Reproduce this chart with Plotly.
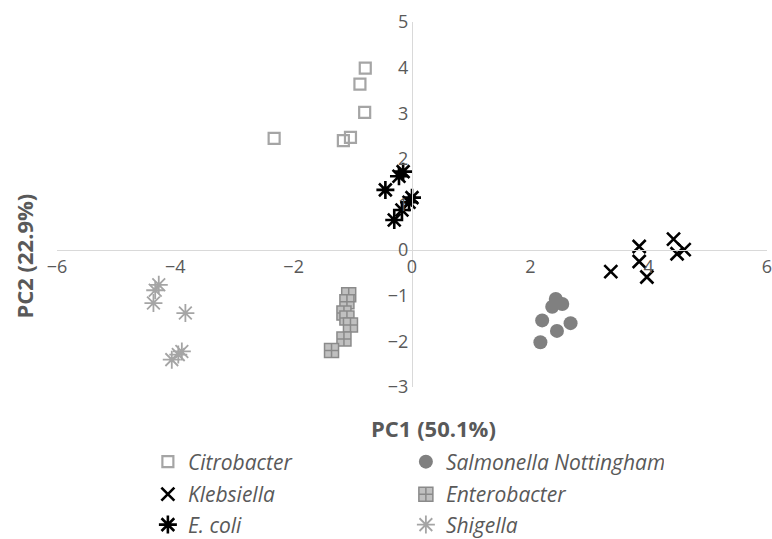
import plotly.graph_objects as go

# ---- data ----
citro_x = [-0.79, -0.88, -0.80, -2.33, -1.04, -1.16]
citro_y = [3.99, 3.64, 3.02, 2.45, 2.47, 2.40]

salm_x = [2.43, 2.54, 2.37, 2.20, 2.68, 2.45, 2.17]
salm_y = [-1.07, -1.18, -1.24, -1.54, -1.60, -1.77, -2.02]

kleb_x = [3.36, 3.84, 3.84, 3.97, 4.42, 4.48, 4.60]
kleb_y = [-0.47, 0.08, -0.25, -0.59, 0.24, -0.08, 0.01]

entero_x = [-1.07, -1.10, -1.15, -1.10, -1.04, -1.15, -1.36]
entero_y = [-0.98, -1.13, -1.38, -1.49, -1.64, -1.95, -2.20]

ecoli_x = [-0.22, -0.15, -0.45, 0.00, -0.05, -0.17, -0.30]
ecoli_y = [1.62, 1.72, 1.32, 1.15, 1.05, 0.88, 0.66]

shig_x = [-4.28, -4.34, -4.37, -3.83, -3.89, -3.95, -4.06]
shig_y = [-0.76, -0.88, -1.16, -1.38, -2.22, -2.29, -2.40]

x_ticks = [-6, -4, -2, 0, 2, 4, 6]
y_ticks = [-3, -2, -1, 0, 1, 2, 3, 4, 5]

FONT = "Open Sans"
GRAY_TXT = "#595959"

fig = go.Figure()
fig.add_trace(go.Scatter(x=citro_x, y=citro_y, mode="markers", name="Citrobacter", legend="legend",
                         marker=dict(symbol="square-open", size=11, color="#a5a5a5",
                                     line=dict(width=2.2, color="#a5a5a5"))))
fig.add_trace(go.Scatter(x=salm_x, y=salm_y, mode="markers", name="Salmonella Nottingham", legend="legend",
                         marker=dict(symbol="circle", size=14, color="#808080",
                                     line=dict(width=0))))
fig.add_trace(go.Scatter(x=kleb_x, y=kleb_y, mode="markers", name="Klebsiella", legend="legend2",
                         marker=dict(symbol="x-thin-open", size=13, color="#000000",
                                     line=dict(width=2.6, color="#000000"))))
fig.add_trace(go.Scatter(x=entero_x, y=entero_y, mode="markers", name="Enterobacter", legend="legend2",
                         marker=dict(symbol="square-cross", size=14, color="#c0c0c0",
                                     line=dict(width=1.5, color="#8a8a8a"))))
fig.add_trace(go.Scatter(x=ecoli_x, y=ecoli_y, mode="markers", name="E. coli", legend="legend3",
                         marker=dict(symbol="asterisk-open", size=15, color="#000000",
                                     line=dict(width=2.6, color="#000000"))))
fig.add_trace(go.Scatter(x=shig_x, y=shig_y, mode="markers", name="Shigella", legend="legend3",
                         marker=dict(symbol="asterisk-open", size=15, color="#a5a5a5",
                                     line=dict(width=1.8, color="#a5a5a5"))))

legend_common = dict(orientation="h", x=0.128, xanchor="left", yanchor="middle",
                     entrywidth=213, traceorder="normal", bgcolor="rgba(0,0,0,0)",
                     font=dict(size=21, color=GRAY_TXT, family=FONT, style="italic"))

fig.update_layout(
    width=772, height=539,
    margin=dict(l=57, r=5, t=22, b=152, autoexpand=False),
    paper_bgcolor="white", plot_bgcolor="white",
    font=dict(family=FONT, color=GRAY_TXT),
    xaxis=dict(range=[-6, 6], tickvals=x_ticks, showgrid=False, zeroline=False,
               showline=True, linecolor="#d9d9d9", linewidth=1,
               anchor="free", position=0.375, ticks="", ticklabeloverflow="allow",
               tickfont=dict(size=18, color=GRAY_TXT, family=FONT)),
    yaxis=dict(range=[-3, 5], tickvals=y_ticks, showgrid=False, zeroline=False,
               showline=True, linecolor="#d9d9d9", linewidth=1,
               anchor="free", position=0.5, ticks="", ticklabeloverflow="allow",
               tickfont=dict(size=18, color=GRAY_TXT, family=FONT)),
    legend=dict(legend_common, y=-0.2055),
    legend2=dict(legend_common, y=-0.2945),
    legend3=dict(legend_common, y=-0.378),
    annotations=[
        dict(text="<b>PC1 (50.1%)</b>", xref="paper", yref="paper", x=0.5296, y=-0.112,
             xanchor="center", yanchor="middle", showarrow=False,
             font=dict(size=22, color=GRAY_TXT, family=FONT)),
        dict(text="<b>PC2 (22.9%)</b>", xref="paper", yref="paper", x=-0.047, y=0.359,
             xanchor="center", yanchor="middle", showarrow=False, textangle=-90,
             font=dict(size=22, color=GRAY_TXT, family=FONT)),
    ],
)

fig.write_html("out.html")
